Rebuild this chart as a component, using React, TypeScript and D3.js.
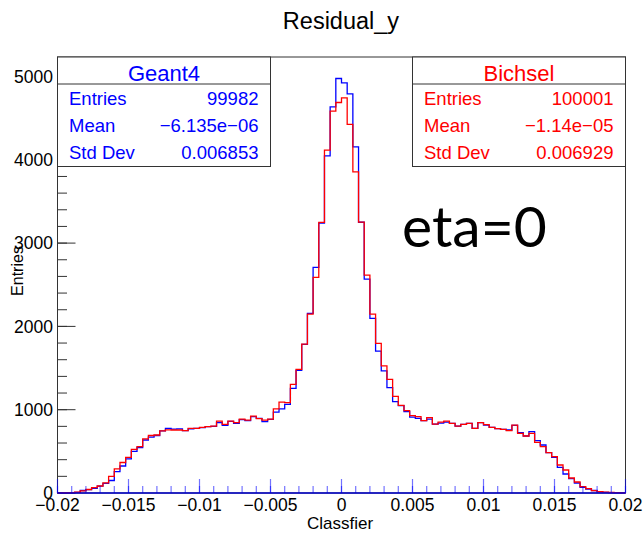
import React from "react";
import * as d3 from "d3";

const W = 644;
const H = 533;

const binLow = -0.02;
const binHigh = 0.02;
const nBins = 100;

const geant4Counts = [
  1, 2, 4, 8, 30, 40, 55, 82, 115, 150,
  256, 324, 410, 500, 546, 636, 670, 690, 746, 776,
  766, 770, 748, 770, 776, 786, 796, 800, 844, 812,
  860, 836, 880, 870, 916, 896, 856, 884, 970, 1010,
  1064, 1256, 1472, 1784, 2156, 2708, 3240, 4048, 4636, 4976,
  4924, 4792, 4156, 3250, 2568, 2096, 1704, 1466, 1266, 1096,
  1048, 976, 912, 896, 868, 886, 828, 840, 850, 836,
  804, 824, 836, 776, 844, 816, 788, 772, 764, 756,
  812, 724, 684, 736, 628, 576, 484, 428, 308, 228,
  172, 120, 68, 48, 30, 14, 8, 5, 3, 2,
];

const bichselCounts = [
  2, 3, 5, 10, 25, 42, 65, 84, 122, 200,
  290, 366, 428, 524, 556, 650, 690, 696, 746, 758,
  756, 756, 748, 776, 776, 788, 796, 804, 864, 824,
  864, 844, 888, 876, 924, 892, 876, 888, 1010, 1092,
  1086, 1304, 1484, 1788, 2148, 2588, 3248, 4116, 4584, 4688,
  4744, 4424, 3856, 3252, 2616, 2148, 1796, 1526, 1364, 1160,
  1052, 988, 930, 916, 868, 906, 828, 852, 862, 836,
  804, 824, 836, 776, 844, 820, 788, 772, 764, 748,
  816, 716, 684, 716, 608, 556, 484, 436, 336, 276,
  180, 132, 76, 52, 28, 16, 10, 6, 4, 2,
];

const xTickValues = [-0.02, -0.015, -0.01, -0.005, 0, 0.005, 0.01, 0.015, 0.02];
const xTickLabels = ["\u22120.02", "\u22120.015", "\u22120.01", "\u22120.005", "0", "0.005", "0.01", "0.015", "0.02"];
const yTickValues = [0, 1000, 2000, 3000, 4000, 5000];
const yTickLabels = ["0", "1000", "2000", "3000", "4000", "5000"];

const statLabels = ["Entries", "Mean", "Std Dev"];
const geant4Stats = ["99982", "\u22126.135e\u221206", "0.006853"];
const bichselStats = ["100001", "\u22121.14e\u221205", "0.006929"];

const yMax = 5234;

const FONT = "'Liberation Sans', Arial, Helvetica, sans-serif";

export default function App() {
  const left = 57.5;
  const right = 625.5;
  const top = 57;
  const bottom = 493;

  const x = d3.scaleLinear().domain([binLow, binHigh]).range([left, right]);
  const y = d3.scaleLinear().domain([0, yMax]).range([bottom, top]);

  const bw = (binHigh - binLow) / nBins;
  const makePts = (counts: number[]) => {
    const pts: [number, number][] = counts.map((c, i) => [binLow + i * bw, c]);
    pts.push([binHigh, counts[counts.length - 1]]);
    return pts;
  };
  const line = d3
    .line<[number, number]>()
    .x((d) => x(d[0]))
    .y((d) => y(d[1]))
    .curve(d3.curveStepAfter);

  const xMinor = d3.range(0, 41).map((i) => binLow + i * 0.001);
  const yMinor = d3.range(0, 27).map((i) => i * 200).filter((v) => v <= yMax);

  const statsBox = (
    x0: number,
    x1: number,
    title: string,
    values: string[],
    color: string
  ) => (
    <g>
      <rect x={x0} y={top} width={x1 - x0} height={166.5 - top} fill="white" stroke="#333" strokeWidth={1} />
      <line x1={x0} x2={x1} y1={84} y2={84} stroke="#333" strokeWidth={1} />
      <text x={(x0 + x1) / 2} y={80.5} textAnchor="middle" fill={color} fontSize={22} fontFamily={FONT}>
        {title}
      </text>
      {statLabels.map((lab, i) => (
        <g key={lab}>
          <text x={x0 + 11.5} y={105 + i * 27} fill={color} fontSize={18.5} fontFamily={FONT}>
            {lab}
          </text>
          <text x={x1 - 12} y={105 + i * 27} textAnchor="end" fill={color} fontSize={18.5} fontFamily={FONT}>
            {values[i]}
          </text>
        </g>
      ))}
    </g>
  );

  return (
    <svg
      width={W}
      height={H}
      style={{ position: "absolute", left: 0, top: 0, background: "white" }}
      xmlns="http://www.w3.org/2000/svg"
    >
      <rect x={0} y={0} width={W} height={H} fill="white" />
      {/* title */}
      <text x={341} y={29} textAnchor="middle" fontSize={23.5} fontFamily={FONT} fill="black">
        Residual_y
      </text>

      {/* frame */}
      <rect x={left} y={top} width={right - left} height={bottom - top} fill="none" stroke="#333" strokeWidth={1} />

      {/* y ticks */}
      {yMinor.map((v) => (
        <line key={"ym" + v} x1={left} x2={left + 9.5} y1={y(v)} y2={y(v)} stroke="#333" strokeWidth={1} />
      ))}
      {yTickValues.map((v) => (
        <line key={"yM" + v} x1={left} x2={left + 18} y1={y(v)} y2={y(v)} stroke="#333" strokeWidth={1} />
      ))}
      {yTickValues.map((v, i) => (
        <text key={"yl" + v} x={53} y={y(v) + 6.3} textAnchor="end" fontSize={17.5} fontFamily={FONT} fill="black">
          {yTickLabels[i]}
        </text>
      ))}

      {/* histograms */}
      <path d={line(makePts(geant4Counts)) || ""} fill="none" stroke="#0000ff" strokeWidth={1.3} />
      <path d={line(makePts(bichselCounts)) || ""} fill="none" stroke="#ff0000" strokeWidth={1.3} />

      {/* x axis */}
      {xMinor.map((v, i) => (
        <line key={"xm" + i} x1={x(v)} x2={x(v)} y1={bottom} y2={bottom - 7} stroke="#0000ff" strokeOpacity={0.55} strokeWidth={1.2} />
      ))}
      {xTickValues.map((v) => (
        <line key={"xM" + v} x1={x(v)} x2={x(v)} y1={bottom} y2={bottom - 14} stroke="#0000ff" strokeOpacity={0.55} strokeWidth={1.2} />
      ))}
      <line x1={left} x2={right} y1={bottom} y2={bottom} stroke="#0000cc" strokeWidth={1.6} />
      {xTickValues.map((v, i) => (
        <text key={"xl" + v} x={x(v)} y={511} textAnchor="middle" fontSize={17.5} fontFamily={FONT} fill="black">
          {xTickLabels[i]}
        </text>
      ))}

      {/* axis titles */}
      <text x={340} y={529} textAnchor="middle" fontSize={17} fontFamily={FONT} fill="black">
        Classfier
      </text>
      <text
        transform={`translate(23, 271) rotate(-90)`}
        textAnchor="middle"
        fontSize={16}
        fontFamily={FONT}
        fill="black"
      >
        Entries
      </text>

      {/* stats boxes */}
      {statsBox(left, 270.5, "Geant4", geant4Stats, "#0000ff")}
      {statsBox(412.5, right, "Bichsel", bichselStats, "#ff0000")}

      {/* annotation */}
      <text x={402} y={247} fontSize={57} fontFamily="Lato, 'Open Sans', sans-serif" fill="black">
        eta=0
      </text>
    </svg>
  );
}
